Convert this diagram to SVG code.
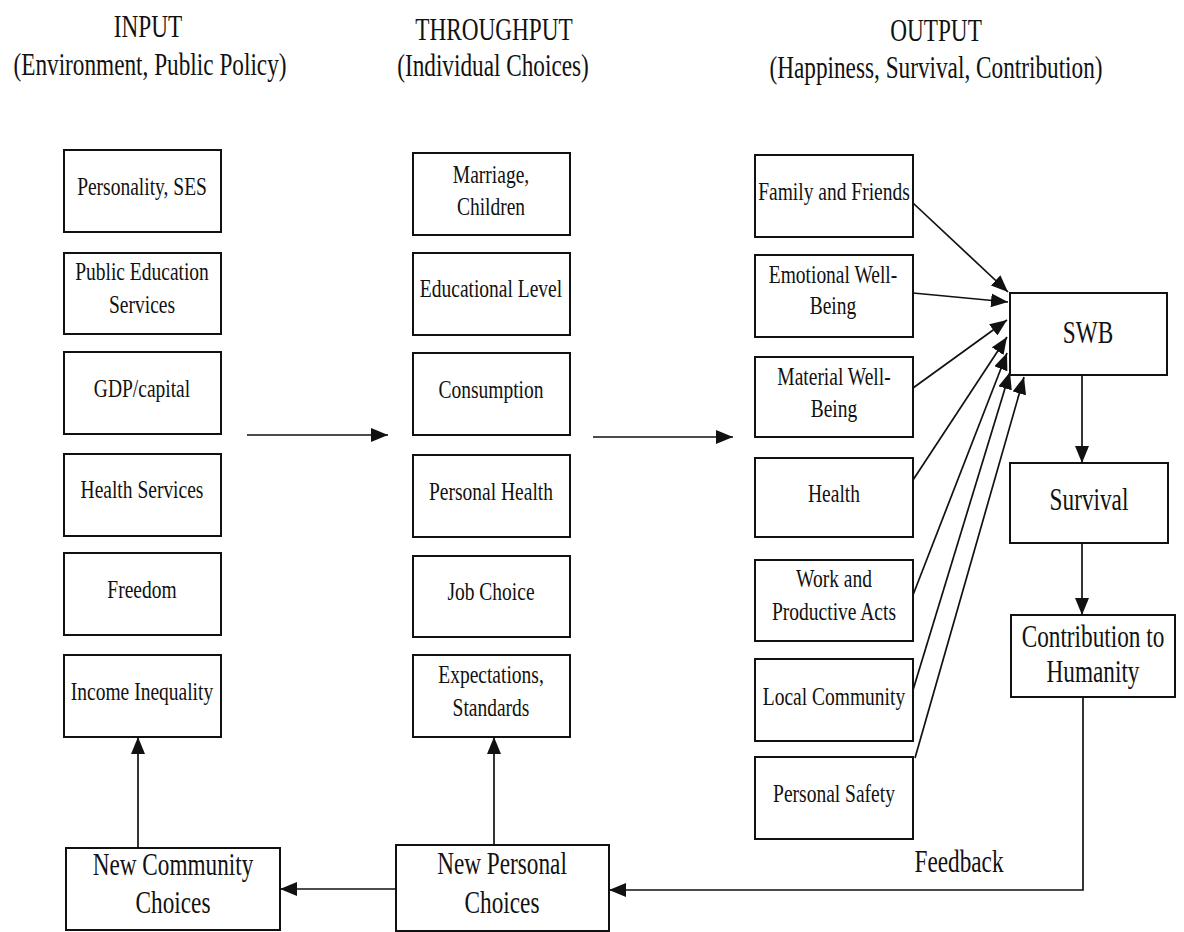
<svg xmlns="http://www.w3.org/2000/svg" width="1184" height="932" viewBox="0 0 1184 932">
  <defs>
    <style>
      .box { fill: #ffffff; stroke: #111111; stroke-width: 2; }
      .conn { fill: none; stroke: #111111; stroke-width: 1.7; }
      text { font-family: "Liberation Serif", "Times New Roman", serif; fill: #111111; text-anchor: middle; }
      .t { font-size: 26px; }
      .tl { font-size: 31px; }
    </style>
    <marker id="arrow" markerUnits="userSpaceOnUse" viewBox="0 0 17 14" refX="17" refY="7" markerWidth="17" markerHeight="14" orient="auto">
      <path d="M0,0 L17,7 L0,14 z" fill="#111111"/>
    </marker>
  </defs>
  <rect width="1184" height="932" fill="#ffffff"/>

  <!-- column headings -->
  <g id="headings">
    <text class="tl" transform="translate(148,37) scale(0.75,1)">INPUT</text>
    <text class="tl" transform="translate(150,75) scale(0.75,1)">(Environment, Public Policy)</text>
    <text class="tl" transform="translate(494,40) scale(0.75,1)">THROUGHPUT</text>
    <text class="tl" transform="translate(493,76) scale(0.75,1)">(Individual Choices)</text>
    <text class="tl" transform="translate(936,41) scale(0.75,1)">OUTPUT</text>
    <text class="tl" transform="translate(936,78) scale(0.75,1)">(Happiness, Survival, Contribution)</text>
  </g>

  <!-- input column -->
  <g id="personality-ses">
    <rect class="box" x="64" y="150" width="157" height="82"/>
    <text class="t" transform="translate(142,195) scale(0.75,1)">Personality, SES</text>
  </g>
  <g id="public-education">
    <rect class="box" x="64" y="253" width="157" height="81"/>
    <text class="t" transform="translate(142,280) scale(0.75,1)">Public Education</text>
    <text class="t" transform="translate(142,313) scale(0.75,1)">Services</text>
  </g>
  <g id="gdp-capital">
    <rect class="box" x="64" y="352" width="157" height="82"/>
    <text class="t" transform="translate(142,397) scale(0.75,1)">GDP/capital</text>
  </g>
  <g id="health-services">
    <rect class="box" x="64" y="454" width="157" height="82"/>
    <text class="t" transform="translate(142,498) scale(0.75,1)">Health Services</text>
  </g>
  <g id="freedom">
    <rect class="box" x="64" y="553" width="157" height="82"/>
    <text class="t" transform="translate(142,598) scale(0.75,1)">Freedom</text>
  </g>
  <g id="income-inequality">
    <rect class="box" x="64" y="655" width="157" height="82"/>
    <text class="t" transform="translate(142,700) scale(0.75,1)">Income Inequality</text>
  </g>

  <!-- throughput column -->
  <g id="marriage-children">
    <rect class="box" x="413" y="153" width="157" height="82"/>
    <text class="t" transform="translate(491,183) scale(0.75,1)">Marriage,</text>
    <text class="t" transform="translate(491,215) scale(0.75,1)">Children</text>
  </g>
  <g id="educational-level">
    <rect class="box" x="413" y="253" width="157" height="82"/>
    <text class="t" transform="translate(491,297) scale(0.75,1)">Educational Level</text>
  </g>
  <g id="consumption">
    <rect class="box" x="413" y="353" width="157" height="82"/>
    <text class="t" transform="translate(491,398) scale(0.75,1)">Consumption</text>
  </g>
  <g id="personal-health">
    <rect class="box" x="413" y="455" width="157" height="82"/>
    <text class="t" transform="translate(491,500) scale(0.75,1)">Personal Health</text>
  </g>
  <g id="job-choice">
    <rect class="box" x="413" y="556" width="157" height="81"/>
    <text class="t" transform="translate(491,600) scale(0.75,1)">Job Choice</text>
  </g>
  <g id="expectations-standards">
    <rect class="box" x="413" y="655" width="157" height="82"/>
    <text class="t" transform="translate(491,683) scale(0.75,1)">Expectations,</text>
    <text class="t" transform="translate(491,716) scale(0.75,1)">Standards</text>
  </g>

  <!-- output column -->
  <g id="family-friends">
    <rect class="box" x="755" y="155" width="158" height="82"/>
    <text class="t" transform="translate(834,200) scale(0.75,1)">Family and Friends</text>
  </g>
  <g id="emotional-wellbeing">
    <rect class="box" x="755" y="255" width="158" height="82"/>
    <text class="t" transform="translate(833,283) scale(0.75,1)">Emotional Well-</text>
    <text class="t" transform="translate(833,314) scale(0.75,1)">Being</text>
  </g>
  <g id="material-wellbeing">
    <rect class="box" x="755" y="357" width="158" height="80"/>
    <text class="t" transform="translate(834,385) scale(0.75,1)">Material Well-</text>
    <text class="t" transform="translate(834,417) scale(0.75,1)">Being</text>
  </g>
  <g id="health">
    <rect class="box" x="755" y="458" width="158" height="79"/>
    <text class="t" transform="translate(834,502) scale(0.75,1)">Health</text>
  </g>
  <g id="work-productive">
    <rect class="box" x="755" y="560" width="158" height="81"/>
    <text class="t" transform="translate(834,587) scale(0.75,1)">Work and</text>
    <text class="t" transform="translate(834,620) scale(0.75,1)">Productive Acts</text>
  </g>
  <g id="local-community">
    <rect class="box" x="755" y="659" width="158" height="82"/>
    <text class="t" transform="translate(834,705) scale(0.75,1)">Local Community</text>
  </g>
  <g id="personal-safety">
    <rect class="box" x="755" y="757" width="158" height="82"/>
    <text class="t" transform="translate(834,802) scale(0.75,1)">Personal Safety</text>
  </g>

  <!-- outcome chain -->
  <g id="swb">
    <rect class="box" x="1010" y="293" width="157" height="82"/>
    <text class="tl" transform="translate(1088,343) scale(0.75,1)">SWB</text>
  </g>
  <g id="survival">
    <rect class="box" x="1010" y="463" width="158" height="80"/>
    <text class="tl" transform="translate(1089,510) scale(0.75,1)">Survival</text>
  </g>
  <g id="contribution">
    <rect class="box" x="1011" y="615" width="164" height="82"/>
    <text class="tl" transform="translate(1093,647) scale(0.75,1)">Contribution to</text>
    <text class="tl" transform="translate(1093,682) scale(0.75,1)">Humanity</text>
  </g>

  <!-- feedback choices -->
  <g id="new-community-choices">
    <rect class="box" x="66" y="848" width="214" height="82"/>
    <text class="tl" transform="translate(173,875) scale(0.75,1)">New Community</text>
    <text class="tl" transform="translate(173,913) scale(0.75,1)">Choices</text>
  </g>
  <g id="new-personal-choices">
    <rect class="box" x="396" y="845" width="213" height="86"/>
    <text class="tl" transform="translate(502,874) scale(0.75,1)">New Personal</text>
    <text class="tl" transform="translate(502,913) scale(0.75,1)">Choices</text>
  </g>

  <!-- connectors -->
  <g id="connectors">
    <path class="conn" d="M247,435 H388" marker-end="url(#arrow)"/>
    <path class="conn" d="M593,437 H733" marker-end="url(#arrow)"/>

    <path class="conn" d="M913,203 L1008,292" marker-end="url(#arrow)"/>
    <path class="conn" d="M913,293 L1008,302" marker-end="url(#arrow)"/>
    <path class="conn" d="M913,388 L1007,320" marker-end="url(#arrow)"/>
    <path class="conn" d="M913,480 L1007,337" marker-end="url(#arrow)"/>
    <path class="conn" d="M913,595 L1007,353" marker-end="url(#arrow)"/>
    <path class="conn" d="M913,690 L1010,372" marker-end="url(#arrow)"/>
    <path class="conn" d="M915,758 L1024,377" marker-end="url(#arrow)"/>

    <path class="conn" d="M1082,375 V463" marker-end="url(#arrow)"/>
    <path class="conn" d="M1082,543 V615" marker-end="url(#arrow)"/>

    <path class="conn" d="M1083,697 V890 H609" marker-end="url(#arrow)"/>
    <path class="conn" d="M396,889 H280" marker-end="url(#arrow)"/>
    <path class="conn" d="M138,848 V737" marker-end="url(#arrow)"/>
    <path class="conn" d="M494,845 V737" marker-end="url(#arrow)"/>
  </g>
  <text class="tl" transform="translate(959,872) scale(0.75,1)">Feedback</text>
</svg>
